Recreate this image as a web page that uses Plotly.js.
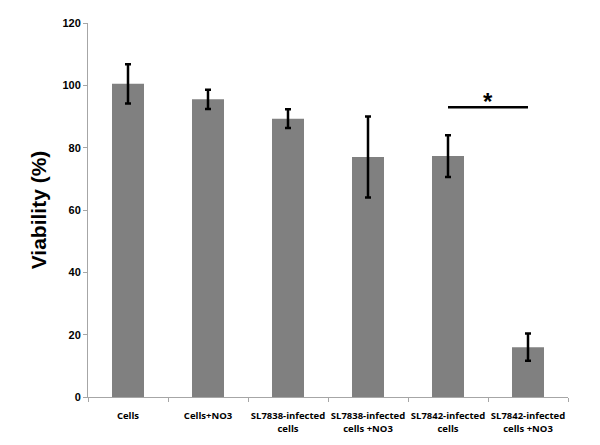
<!DOCTYPE html>
<html>
<head>
<meta charset="utf-8">
<script src="https://cdn.plot.ly/plotly-3.0.1.min.js"></script>
<style>
  html, body { margin: 0; padding: 0; background: #fff; }
  #chart { width: 600px; height: 445px; }
</style>
</head>
<body>
<div id="chart"></div>
<script>
// Cell viability per condition, mean and error
const groups = [
    'Cells',
    'Cells+NO3',
    'SL7838-infected<br>cells',
    'SL7838-infected<br>cells +NO3',
    'SL7842-infected<br>cells',
    'SL7842-infected<br>cells +NO3'
];
const viability = [100.5, 95.5, 89.3, 77.0, 77.3, 16.0];
const viabilityErr = [6.3, 3.1, 3.0, 13.0, 6.7, 4.4];

// significance bracket between the two SL7842 groups
const sigPair = [groups[4], groups[5]];
const sigLevel = 93;

const trace = {
    x: groups,
    y: viability,
    type: 'bar',
    width: 0.4,
    marker: { color: '#808080' },
    error_y: {
        type: 'data',
        array: viabilityErr,
        visible: true,
        color: '#000',
        thickness: 2.5,
        width: 3
    },
    hoverinfo: 'none'
};

const layout = {
    width: 600,
    height: 445,
    margin: { l: 88, r: 32, t: 23, b: 48 },
    paper_bgcolor: '#fff',
    plot_bgcolor: '#fff',
    showlegend: false,
    xaxis: {
        type: 'category',
        showline: true,
        linecolor: '#a6a6a6',
        linewidth: 1,
        ticks: 'outside',
        tickson: 'boundaries',
        ticklen: 4,
        tickcolor: '#a6a6a6',
        ticklabelstandoff: 10,
        tickangle: 0,
        showgrid: false,
        tickfont: { family: 'Open Sans, Arial, sans-serif', size: 9.5, color: '#000', weight: 'bold' }
    },
    yaxis: {
        range: [0, 120],
        dtick: 20,
        showline: true,
        linecolor: '#a6a6a6',
        linewidth: 1,
        ticks: 'outside',
        ticklen: 4,
        tickcolor: '#a6a6a6',
        showgrid: false,
        zeroline: false,
        tickfont: { family: 'Arial, Liberation Sans, sans-serif', size: 11, color: '#000', weight: 'bold' },
        title: {
            text: 'Viability (%)',
            font: { family: 'Arial, Liberation Sans, sans-serif', size: 21, color: '#000', weight: 'bold' },
            standoff: 10
        }
    },
    shapes: [{
        type: 'line',
        xref: 'x', yref: 'y',
        x0: sigPair[0], x1: sigPair[1],
        y0: sigLevel, y1: sigLevel,
        line: { color: '#000', width: 2.5 }
    }],
    annotations: [{
        xref: 'x', yref: 'y',
        x: 4.5, y: sigLevel,
        yanchor: 'bottom',
        yshift: -10,
        text: '*',
        showarrow: false,
        font: { family: 'Arial, Liberation Sans, sans-serif', size: 24, color: '#000', weight: 'bold' }
    }]
};

Plotly.newPlot('chart', [trace], layout, { displayModeBar: false, staticPlot: true });
</script>
</body>
</html>
